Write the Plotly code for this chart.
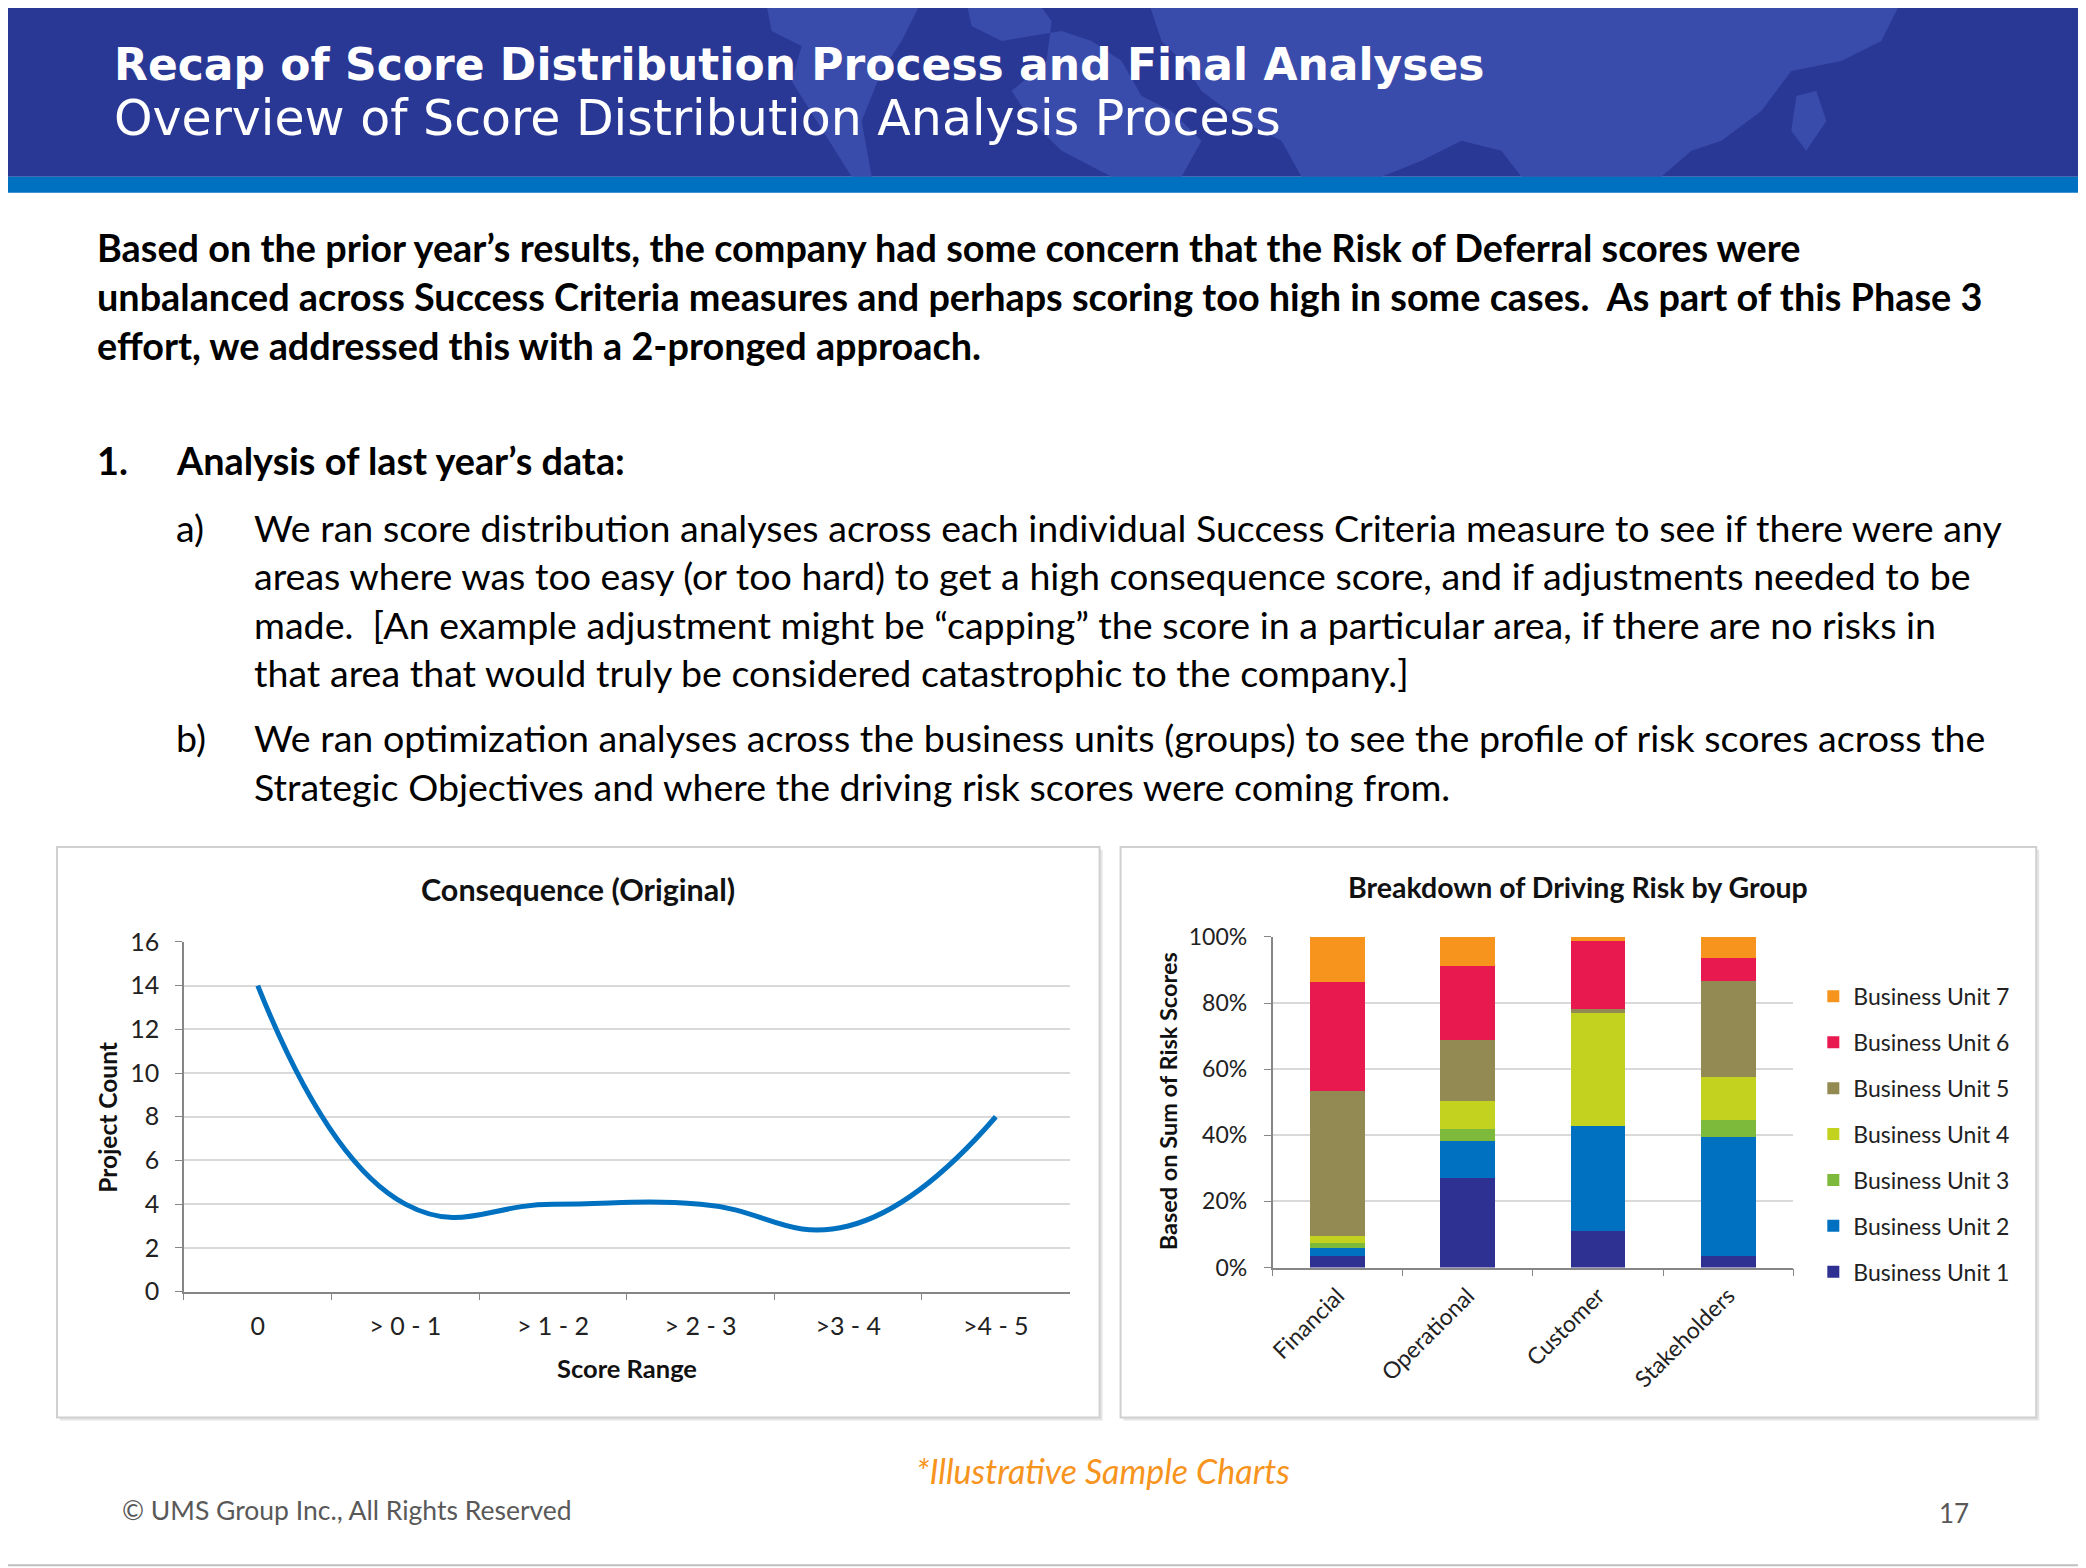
import plotly.graph_objects as go

# ================== data ==================
score_ranges = ["0", "> 0 - 1", "> 1 - 2", "> 2 - 3", ">3 - 4", ">4 - 5"]
project_count = [14, 4, 4, 4, 3, 8]

objectives = ["Financial", "Operational", "Customer", "Stakeholders"]
units = ["Business Unit 1", "Business Unit 2", "Business Unit 3", "Business Unit 4",
         "Business Unit 5", "Business Unit 6", "Business Unit 7"]
bu1 = [3.4, 27.2, 11.0, 3.4]
bu2 = [2.5, 11.2, 31.8, 36.0]
bu3 = [1.5, 3.6, 0.0, 5.2]
bu4 = [2.1, 8.5, 34.1, 12.9]
bu5 = [44.0, 18.3, 1.4, 29.2]
bu6 = [32.8, 22.3, 20.5, 7.0]
bu7 = [13.7, 8.9, 1.2, 6.3]
unit_colors = ["#2E3192", "#0070C0", "#7DB93A", "#C3D21F", "#938953", "#E8194F", "#F7941D"]

W, H = 2086, 1568
# the page shows the figure a little offset / squeezed, so map slide pixels to paper
OX, SX = 12, 0.9975
OY, SY = 23, 0.982
def px(x): return ((x - OX) / SX) / W
def py(y): return 1 - ((y - OY) / SY) / H

FONT = "Lato"

fig = go.Figure()

# ---- left chart: smoothed line ----
fig.add_trace(go.Scatter(
    x=score_ranges, y=project_count, mode="lines",
    line=dict(color="#0070C0", width=5, shape="spline", smoothing=1.3),
    xaxis="x", yaxis="y", showlegend=False,
))

# ---- right chart: 100% stacked bars ----
for i, (name, vals, col) in enumerate(zip(units, [bu1, bu2, bu3, bu4, bu5, bu6, bu7], unit_colors)):
    fig.add_trace(go.Bar(
        x=objectives, y=vals, name=name, marker_color=col, marker_line_width=0,
        xaxis="x2", yaxis="y2", legendgroup=name, legendrank=10 - i,
    ))

def axis_style(size):
    return dict(showline=True, linecolor="#868686", linewidth=1.5,
                ticks="outside", tickcolor="#868686", ticklen=7,
                tickfont=dict(family=FONT, size=size, color="#222"))

fig.update_layout(
    width=W, height=H, margin=dict(l=0, r=0, t=0, b=0),
    paper_bgcolor="white", plot_bgcolor="rgba(0,0,0,0)",
    font=dict(family=FONT),
    barmode="stack", bargap=0.58,
    xaxis=dict(domain=[px(182), px(1068)], anchor="y", type="category",
               tickson="boundaries", range=[-0.5, 5.5], showgrid=False,
               ticklabelstandoff=12, **axis_style(25)),
    yaxis=dict(domain=[py(1292), py(942)], anchor="x", range=[0, 16], dtick=2,
               showgrid=True, gridcolor="#D9D9D9", gridwidth=2,
               ticklabelstandoff=11, **axis_style(25)),
    xaxis2=dict(domain=[px(1271), px(1792)], anchor="y2", type="category",
                tickson="boundaries", range=[-0.5, 3.5], showgrid=False,
                tickangle=-45, ticklabelstandoff=4, **axis_style(23)),
    yaxis2=dict(domain=[py(1268), py(937)], anchor="x2", range=[0, 100], dtick=20,
                ticksuffix="%", showgrid=True, gridcolor="#D9D9D9", gridwidth=2,
                ticklabelstandoff=12, **axis_style(23)),
    legend=dict(x=px(1812), y=py(975), xanchor="left", yanchor="top",
                traceorder="grouped", tracegroupgap=13,
                font=dict(family=FONT, size=23, color="#222"),
                bgcolor="rgba(0,0,0,0)", itemwidth=30),
)

# ---- shapes: header, map, frames ----
shapes = []
shapes.append(dict(type="rect", xref="paper", yref="paper", x0=px(-30), x1=px(2120), y0=py(176), y1=py(-20),
                   fillcolor="#2A3895", line_width=0, layer="below"))
# rough lighter world map silhouette in the header
map_path = ("M 725 -20 L 760 -20 L 770 30 L 800 45 L 790 80 L 815 120 L 850 176 L 870 176 "
            "L 860 120 L 880 70 L 900 40 L 930 -20 Z "
            "M 960 -20 L 1020 -20 L 1050 20 L 1045 60 L 1010 90 L 1030 120 L 1060 150 L 1110 176 "
            "L 1180 176 L 1200 140 L 1170 110 L 1140 95 L 1120 60 L 1090 40 L 1060 30 L 1000 40 L 970 25 Z "
            "M 1140 -20 L 1910 -20 L 1880 40 L 1840 60 L 1790 70 L 1760 110 L 1720 140 L 1690 150 "
            "L 1660 176 L 1520 176 L 1500 150 L 1460 140 L 1420 160 L 1380 176 L 1300 176 "
            "L 1280 140 L 1240 120 L 1200 90 L 1180 60 L 1160 40 Z "
            "M 1795 95 L 1815 90 L 1825 120 L 1805 150 L 1790 130 Z")

def conv_path(p):
    out = []
    toks = p.split()
    i = 0
    while i < len(toks):
        t = toks[i]
        if t in ("M", "L"):
            x = float(toks[i + 1]); y = float(toks[i + 2])
            out.append(f"{t} {px(x):.5f} {py(y):.5f}")
            i += 3
        else:
            out.append(t)
            i += 1
    return " ".join(out)

shapes.append(dict(type="path", xref="paper", yref="paper", path=conv_path(map_path),
                   fillcolor="#3A4CAB", line_width=0, layer="below"))
shapes.append(dict(type="rect", xref="paper", yref="paper", x0=px(-30), x1=px(2120), y0=py(192), y1=py(176),
                   fillcolor="#0070C0", line_width=0, layer="below"))
# slide border
shapes.append(dict(type="rect", xref="paper", yref="paper", x0=px(1), x1=px(2084), y0=py(1566), y1=py(2),
                   line=dict(color="#BFBFBF", width=2), fillcolor="rgba(0,0,0,0)", layer="below"))
# chart frames
for x0, x1 in [(55, 1098), (1119, 2035)]:
    shapes.append(dict(type="rect", xref="paper", yref="paper", x0=px(x0 + 3), x1=px(x1 + 3),
                       y0=py(1421), y1=py(850), fillcolor="#E6E6E6", line_width=0, layer="below"))
    shapes.append(dict(type="rect", xref="paper", yref="paper", x0=px(x0), x1=px(x1),
                       y0=py(1418), y1=py(847), fillcolor="white",
                       line=dict(color="#D0D0D0", width=2), layer="below"))
fig.update_layout(shapes=shapes)

# ---- text ----
def txt(x, y, s, size=30, bold=False, color="#000", anchor="left", family=FONT, italic=False, angle=0):
    if bold:
        s = f"<b>{s}</b>"
    if italic:
        s = f"<i>{s}</i>"
    fig.add_annotation(x=px(x), y=py(y), xref="paper", yref="paper", text=s, showarrow=False,
                       xanchor=anchor, yanchor="middle", textangle=angle,
                       font=dict(family=family, size=size, color=color))

txt(110, 64, "Recap of Score Distribution Process and Final Analyses", size=44, bold=True,
    color="white", family="DejaVu Sans")
txt(110, 118, "Overview of Score Distribution Analysis Process", size=49,
    color="white", family="DejaVu Sans")

para = ["Based on the prior year’s results, the company had some concern that the Risk of Deferral scores were",
        "unbalanced across Success Criteria measures and perhaps scoring too high in some cases.&nbsp; As part of this Phase 3",
        "effort, we addressed this with a 2-pronged approach."]
for i, line in enumerate(para):
    txt(93, 247 + i * 49, line, size=37.8, bold=True)

txt(93, 460, "1.", size=37.8, bold=True)
txt(172, 460, "Analysis of last year’s data:", size=37.8, bold=True)

item_a = ["We ran score distribution analyses across each individual Success Criteria measure to see if there were any",
          "areas where was too easy (or too hard) to get a high consequence score, and if adjustments needed to be",
          "made.&nbsp; [An example adjustment might be “capping” the score in a particular area, if there are no risks in",
          "that area that would truly be considered catastrophic to the company.]"]
txt(172, 527, "a)", size=37.6)
for i, line in enumerate(item_a):
    txt(250, 527 + i * 48.5, line, size=37.6)

item_b = ["We ran optimization analyses across the business units (groups) to see the profile of risk scores across the",
          "Strategic Objectives and where the driving risk scores were coming from."]
txt(172, 737, "b)", size=37.6)
for i, line in enumerate(item_b):
    txt(250, 737 + i * 49, line, size=37.6)

# chart titles and axis titles
txt(576, 889, "Consequence (Original)", size=30.5, bold=True, color="#111", anchor="center")
txt(625, 1369, "Score Range", size=25.5, bold=True, color="#111", anchor="center")
txt(106, 1117, "Project Count", size=24.5, bold=True, color="#111", anchor="center", angle=-90)

txt(1577, 887, "Breakdown of Driving Risk by Group", size=28.5, bold=True, color="#111", anchor="center")
txt(1166, 1102, "Based on Sum of Risk Scores", size=23.5, bold=True, color="#111", anchor="center", angle=-90)

# footer
txt(1101, 1471, "*Illustrative Sample Charts", size=34, italic=True, color="#F7941D", anchor="center")
txt(118, 1511, "© UMS Group Inc., All Rights Reserved", size=26.5, color="#595959")
txt(1953, 1514, "17", size=26, color="#595959", anchor="center")

fig.write_html("out.html")
